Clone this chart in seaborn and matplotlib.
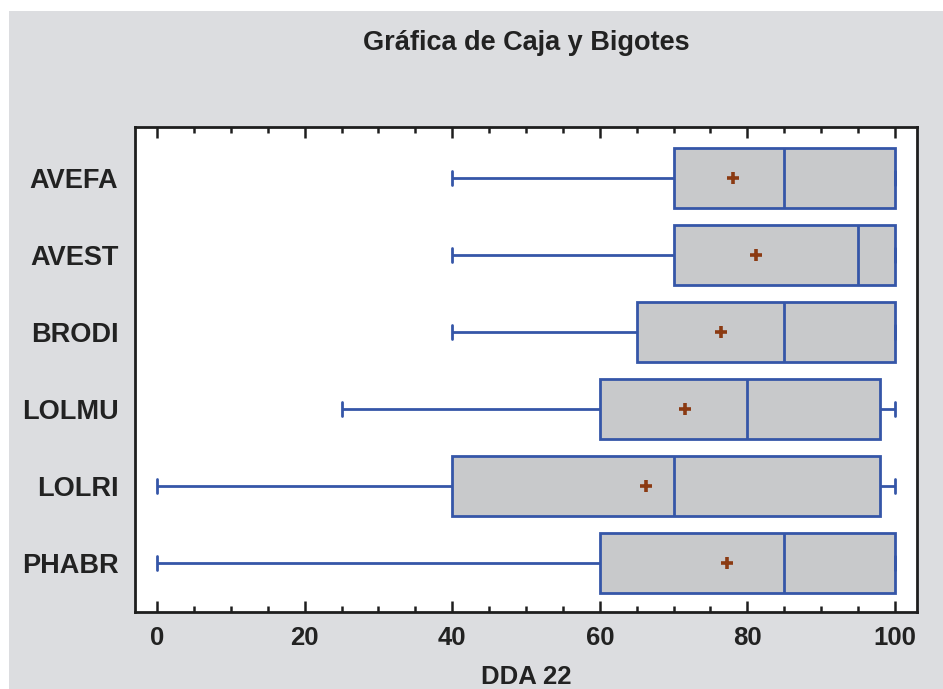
import matplotlib
matplotlib.use("Agg")
import matplotlib.pyplot as plt
from matplotlib.patches import Rectangle
from matplotlib.ticker import MultipleLocator
import numpy as np
import pandas as pd
import seaborn as sns

# five-number summaries
categories = ["AVEFA", "AVEST", "BRODI", "LOLMU", "LOLRI", "PHABR"]
mins = [40, 40, 40, 25, 0, 0]
q1s = [70, 70, 65, 60, 40, 60]
medians = [85, 95, 85, 80, 70, 85]
q3s = [100, 100, 100, 98, 98, 100]
maxs = [100, 100, 100, 100, 100, 100]
means = [78.0, 81.2, 76.4, 71.6, 66.3, 77.2]

# five points per group give exactly these quartiles with whiskers at min/max
rows = []
for c, a, b, m, d, e in zip(categories, mins, q1s, medians, q3s, maxs):
    for v in (a, b, m, d, e):
        rows.append({"grupo": c, "DDA 22": v})
data = pd.DataFrame(rows)
mean_df = pd.DataFrame({"grupo": categories, "media": means})

sns.set_style("white")
plt.rcParams["font.family"] = ["Liberation Sans", "DejaVu Sans"]
plt.rcParams["font.weight"] = "bold"

bg = "#dcdde0"
blue = "#3556a8"
boxfill = "#c8c9cb"
frame = "#1e1e1e"
txt = "#222222"

fig = plt.figure(figsize=(9.43, 6.89), dpi=100)
fig.patch.set_facecolor("white")
fig.patches.append(Rectangle((9 / 943, 0), 1, 1 - 11 / 689, transform=fig.transFigure,
                             facecolor=bg, edgecolor="none", zorder=-10))
ax = fig.add_axes([135 / 943, 1 - 612 / 689, 782 / 943, 485 / 689])
ax.set_facecolor("white")

lineprops = {"color": blue, "linewidth": 2.0}
sns.boxplot(ax=ax, data=data, x="DDA 22", y="grupo", order=categories, whis=np.inf,
            width=0.78, linewidth=2.0,
            boxprops={"facecolor": boxfill, "edgecolor": blue, "linewidth": 2.0},
            medianprops=lineprops, whiskerprops=lineprops, capprops=lineprops,
            capwidths=0.18, showfliers=False)
sns.scatterplot(ax=ax, data=mean_df, x="media", y="grupo", marker="+", s=70,
                linewidth=2.6, color="#8b3a12", zorder=5)

ax.set_xlim(-3, 103)
ax.set_ylim(5.636, -0.662)
ax.xaxis.set_major_locator(MultipleLocator(20))
ax.xaxis.set_minor_locator(MultipleLocator(5))
ax.tick_params(axis="x", which="both", direction="in", top=True, bottom=True,
               width=1.8, color=frame, labelsize=18.5, pad=10)
ax.tick_params(axis="x", which="major", length=8)
ax.tick_params(axis="x", which="minor", length=4)
ax.tick_params(axis="y", length=0, labelsize=19.5, pad=12)
for lab in ax.get_xticklabels() + ax.get_yticklabels():
    lab.set_fontweight("bold")
    lab.set_color(txt)
for s in ax.spines.values():
    s.set_visible(True)
    s.set_color(frame)
    s.set_linewidth(2.0)

ax.set_ylabel("")
ax.set_xlabel("DDA 22", fontsize=18.5, fontweight="bold", color=txt, va="center")
ax.xaxis.set_label_coords(0.5, (612 - 677) / 485)
fig.text(526 / 943, 1 - 43 / 689, "Gráfica de Caja y Bigotes", ha="center", va="center",
         fontsize=19.5, fontweight="bold", color=txt)

fig.savefig("out.png", dpi=100, facecolor=fig.get_facecolor())
